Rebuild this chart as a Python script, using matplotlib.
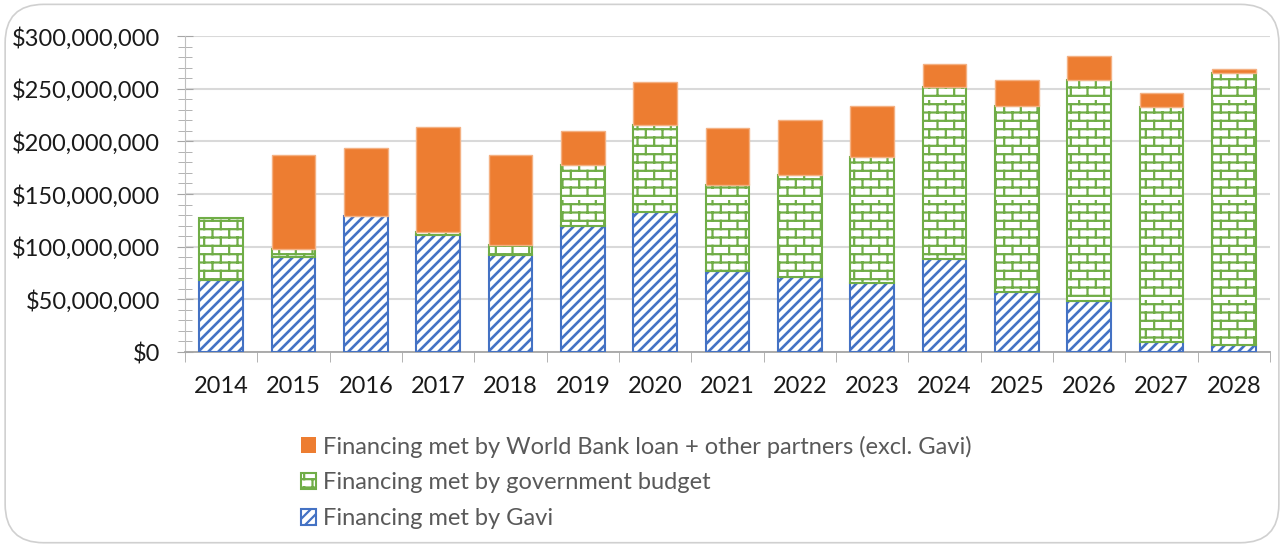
import numpy as np
import matplotlib
matplotlib.use("Agg")
import matplotlib.pyplot as plt
from matplotlib.patches import FancyBboxPatch
from matplotlib.ticker import FuncFormatter, MultipleLocator
from matplotlib import hatch as mhatch
from matplotlib.path import Path

# Data (US$ millions)
years = ["2014", "2015", "2016", "2017", "2018", "2019", "2020", "2021",
         "2022", "2023", "2024", "2025", "2026", "2027", "2028"]
gavi = [68.4, 90.5, 129.4, 111.0, 92.0, 119.6, 133.0, 77.0, 71.0, 65.2,
        88.3, 56.7, 48.7, 9.2, 6.3]
government = [59.1, 7.3, 0.0, 3.0, 9.6, 57.9, 82.5, 81.5, 97.0, 119.6,
              163.3, 176.8, 209.5, 223.1, 258.9]
world_bank = [0.0, 89.2, 64.3, 99.6, 85.4, 32.3, 40.5, 54.2, 52.0, 48.7,
              22.1, 24.7, 22.5, 13.3, 3.2]

labels = ["Financing met by World Bank loan + other partners (excl. Gavi)",
          "Financing met by government budget",
          "Financing met by Gavi"]

BLUE = "#4472C4"
GREEN = "#70AD47"
ORANGE = "#ED7D31"


# Brick hatch, registered under the letter 'b'
class Bricks(mhatch.HatchPatternBase):
    def __init__(self, hatch, density):
        n = hatch.count("b")
        self.rows = 12 * n
        self.cols = 6
        self.num_vertices = (self.rows * (1 + self.cols)) * 2

    def set_vertices_and_codes(self, vertices, codes):
        h = 1.0 / self.rows
        w = 1.0 / self.cols
        k = 0
        for r in range(self.rows):
            y0 = r * h + h * 0.5
            vertices[k] = (0.0, y0)
            vertices[k + 1] = (1.0, y0)
            k += 2
            off = 0.25 * w if r % 2 == 0 else 0.75 * w
            for c in range(self.cols):
                xc = c * w + off
                vertices[k] = (xc, y0)
                vertices[k + 1] = (xc, y0 + h)
                k += 2
        codes[0::2] = Path.MOVETO
        codes[1::2] = Path.LINETO


# Wide diagonal stripes, letter 'd'
class Stripes(mhatch.HatchPatternBase):
    def __init__(self, hatch, density):
        self.n = 20 * hatch.count("d")
        self.num_vertices = (self.n + 1) * 2 if self.n else 0

    def set_vertices_and_codes(self, vertices, codes):
        steps = np.linspace(-0.5, 0.5, self.n + 1)
        vertices[0::2, 0] = 0.0 + steps
        vertices[0::2, 1] = 0.0 - steps
        vertices[1::2, 0] = 1.0 + steps
        vertices[1::2, 1] = 1.0 - steps
        codes[0::2] = Path.MOVETO
        codes[1::2] = Path.LINETO


mhatch._hatch_types.append(Bricks)
mhatch._hatch_types.append(Stripes)

plt.rcParams["font.family"] = ["Lato", "DejaVu Sans"]

fig = plt.figure(figsize=(12.84, 5.46), dpi=100)
fig.patches.append(FancyBboxPatch((0.004, 0.006), 0.992, 0.986,
                                  boxstyle="round,pad=0,rounding_size=0.03",
                                  transform=fig.transFigure, fc="none",
                                  ec="#d0d0d0", lw=1.2, mutation_aspect=2.35,
                                  zorder=-1))
ax = fig.add_axes([0.1441, 0.3553, 0.845, 0.5787])
ax.patch.set_alpha(0)

x = np.arange(len(years))
w = 0.6
g = np.array(gavi)
gv = np.array(government)
wb = np.array(world_bank)


def hatch_lw(bars, lw):
    for p in bars:
        if hasattr(p, "set_hatch_linewidth"):
            p.set_hatch_linewidth(lw)


plt.rcParams["hatch.linewidth"] = 1.9
b1 = ax.bar(x, g, w, color="white", edgecolor=BLUE, hatch="d", lw=1.5, zorder=3)
hatch_lw(b1, 1.9)
plt.rcParams["hatch.linewidth"] = 1.6
b2 = ax.bar(x, gv, w, bottom=g, color="white", edgecolor=GREEN, hatch="b",
            lw=[1.5 if v > 0 else 0 for v in gv], zorder=3)
hatch_lw(b2, 1.6)
b3 = ax.bar(x, wb, w, bottom=g + gv, color=ORANGE, edgecolor="#F4B183",
            lw=[1.0 if v > 0 else 0 for v in wb], zorder=3)

ax.set_xlim(-0.5, len(years) - 0.5)
ax.set_ylim(0, 300)
ax.yaxis.set_major_locator(MultipleLocator(50))
ax.yaxis.set_minor_locator(MultipleLocator(10))
ax.yaxis.set_major_formatter(FuncFormatter(lambda v, p: "${:,.0f}".format(v * 1e6)))
ax.set_xticks(x)
ax.set_xticklabels(years)
ax.set_xticks(np.arange(len(years) + 1) - 0.5, minor=True)

ax.grid(axis="y", color="#d9d9d9", lw=1.5, zorder=0)
for s in ["top", "right"]:
    ax.spines[s].set_visible(False)
ax.spines["left"].set_color("#bfbfbf")
ax.spines["bottom"].set_color("#a6a6a6")
ax.spines["bottom"].set_linewidth(1.3)

ax.tick_params(axis="y", which="both", direction="inout", length=12,
               color="#a6a6a6", labelsize=17, pad=12, labelcolor="#1a1a1a")
ax.tick_params(axis="y", which="minor", length=10)
ax.tick_params(axis="x", which="major", direction="in", length=6,
               color="#a6a6a6", labelsize=17, pad=17, labelcolor="#1a1a1a")
ax.tick_params(axis="x", which="minor", direction="out", length=7,
               color="#a6a6a6")

fig.legend([b3, b2, b1], labels, loc="upper left",
           bbox_to_anchor=(0.2268, 0.2197), frameon=False, fontsize=17,
           handlelength=0.65, handleheight=0.65, handletextpad=0.3,
           labelspacing=0.63, labelcolor="#595959", borderaxespad=0)

fig.savefig("out.png", dpi=100)
